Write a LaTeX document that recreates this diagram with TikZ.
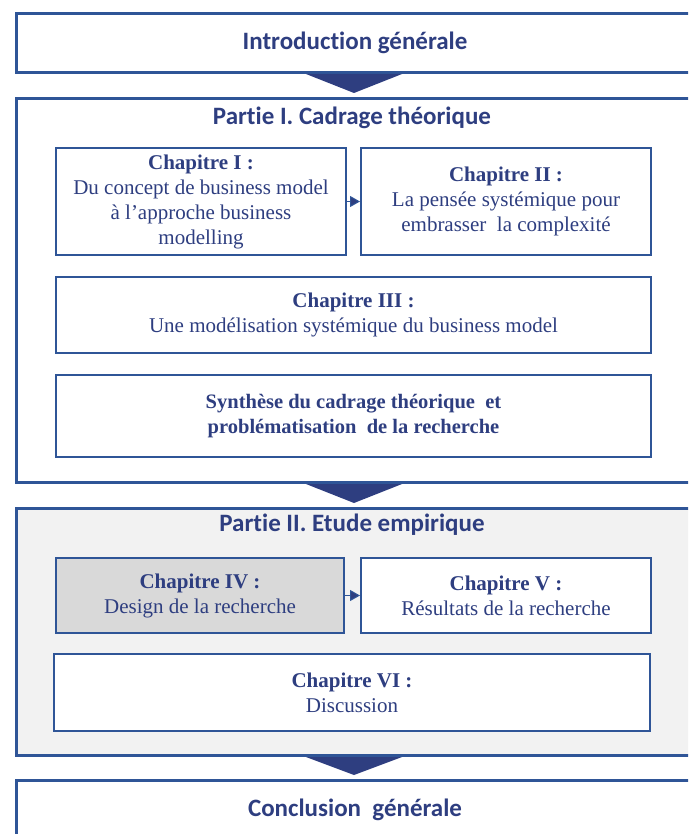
\documentclass[tikz,border=0pt]{standalone}
\usepackage{fontspec}
\setmainfont{Liberation Serif}
\newfontfamily\headfont[Ligatures=NoCommon]{Carlito}
\usetikzlibrary{calc,arrows.meta}
\definecolor{boxblue}{RGB}{47,85,151}
\definecolor{navy}{RGB}{46,62,128}
\definecolor{partgrey}{RGB}{242,242,242}
\definecolor{chapgrey}{RGB}{217,217,217}
\begin{document}
\begin{tikzpicture}[x=1pt,y=-1pt,
  outerbox/.style={draw=boxblue,line width=3pt,anchor=north west,inner sep=0pt,
    text=navy,font=\headfont\bfseries\fontsize{25}{28}\selectfont},
  chapbox/.style={draw=boxblue,line width=2pt,anchor=north west,fill=white,
    inner sep=0pt,align=center,text=navy,font=\fontsize{21}{25}\selectfont},
  headtext/.style={text=navy,font=\headfont\bfseries\fontsize{25}{28}\selectfont},
  link/.style={draw=boxblue,line width=1pt,-{Triangle[length=10pt,width=11pt,fill=navy]}},
  pointer/.style={fill=navy}]
\useasboundingbox (0,0) rectangle (688,834);
\clip (0,0) rectangle (688,834);
% frame of the thesis
\node[outerbox,minimum width=677pt,minimum height=59pt] (intro) at (15,12) {Introduction générale};
\node[outerbox,minimum width=677pt,minimum height=384pt] (part1) at (15,97) {};
\node[outerbox,fill=partgrey,minimum width=677pt,minimum height=247pt] (part2) at (15,507) {};
\node[outerbox,minimum width=677pt,minimum height=58pt] (concl) at (15,779) {Conclusion~ générale};
\node[headtext] (part1title) at (352,118) {Partie I. Cadrage théorique};
\node[headtext] (part2title) at (352,525) {Partie II. Etude empirique};
% pointers between the parts
\fill[pointer] ($(intro.south)+(-49,0)$) -- ($(intro.south)+(47,0)$) -- ($(part1.north)+(-1,-4)$) -- cycle;
\fill[pointer] ($(part1.south)+(-49,0)$) -- ($(part1.south)+(47,0)$) -- ($(part2.north)+(-1,-4)$) -- cycle;
\fill[pointer] ($(part2.south)+(-49,0)$) -- ($(part2.south)+(47,0)$) -- ($(concl.north)+(-1,-4)$) -- cycle;
% chapters
\node[chapbox,minimum width=290pt,minimum height=107pt] (ch1) at (55,147)
  {\textbf{Chapitre I :}\\Du concept de business model\\à l’approche business\\modelling};
\node[chapbox,minimum width=290pt,minimum height=107pt] (ch2) at (360,147)
  {\textbf{Chapitre II :}\\La pensée systémique pour\\embrasser~ la complexité};
\node[chapbox,minimum width=595pt,minimum height=76pt] (ch3) at (55,276)
  {\textbf{Chapitre III :}\\Une modélisation systémique du business model};
\node[chapbox,minimum width=595pt,minimum height=82pt,font=\bfseries\fontsize{20.5}{25}\selectfont] (synth) at (55,374)
  {Synthèse du cadrage théorique~ et\\problématisation~ de la recherche};
\node[chapbox,fill=chapgrey,minimum width=288pt,minimum height=75pt] (ch4) at (55,557)
  {\textbf{Chapitre IV :}\\Design de la recherche};
\node[chapbox,minimum width=290pt,minimum height=75pt] (ch5) at (360,557)
  {\textbf{Chapitre V :}\\Résultats de la recherche};
\node[chapbox,minimum width=596pt,minimum height=77pt] (ch6) at (53,653)
  {\textbf{Chapitre VI :}\\Discussion};
\draw[link] (ch1) -- (ch2);
\draw[link] (ch4) -- (ch5);
\end{tikzpicture}
\end{document}
